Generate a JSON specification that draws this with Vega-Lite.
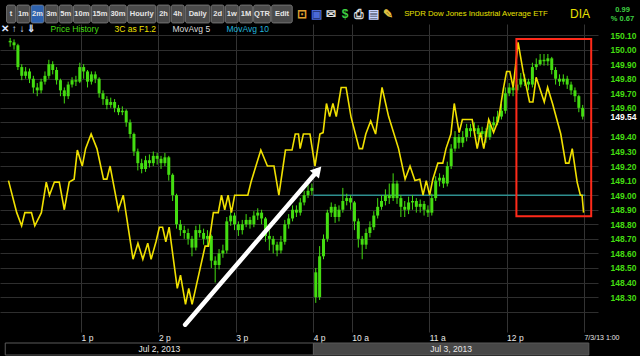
{
  "$schema": "https://vega.github.io/schema/vega-lite/v6.json",
  "background": "#000000",
  "padding": {"top": 4, "left": 0, "right": 0, "bottom": 0},
  "spacing": 0,
  "config": {"font": "Liberation Sans", "view": {"stroke": null}, "concat": {"spacing": 0}},
  "resolve": {"scale": {"x": "independent", "y": "independent", "color": "independent"}, "legend": {"color": "independent"}},
  "datasets": {
    "candles": [
      {"t":5,"o":150.06,"c":150.05,"h":150.08,"l":150.02},
      {"t":8,"o":150.05,"c":150.03,"h":150.07,"l":150.00},
      {"t":11,"o":150.03,"c":149.88,"h":150.04,"l":149.86},
      {"t":14,"o":149.88,"c":149.82,"h":149.90,"l":149.79},
      {"t":17,"o":149.82,"c":149.85,"h":149.88,"l":149.80},
      {"t":20,"o":149.85,"c":149.80,"h":149.87,"l":149.77},
      {"t":23,"o":149.80,"c":149.74,"h":149.82,"l":149.70},
      {"t":26,"o":149.74,"c":149.72,"h":149.77,"l":149.68},
      {"t":29,"o":149.72,"c":149.78,"h":149.80,"l":149.70},
      {"t":32,"o":149.78,"c":149.82,"h":149.85,"l":149.76},
      {"t":35,"o":149.82,"c":149.90,"h":149.93,"l":149.80},
      {"t":38,"o":149.90,"c":149.86,"h":149.92,"l":149.83},
      {"t":41,"o":149.86,"c":149.79,"h":149.88,"l":149.76},
      {"t":44,"o":149.79,"c":149.72,"h":149.80,"l":149.68},
      {"t":47,"o":149.72,"c":149.68,"h":149.74,"l":149.63},
      {"t":50,"o":149.68,"c":149.76,"h":149.78,"l":149.66},
      {"t":53,"o":149.76,"c":149.79,"h":149.81,"l":149.74},
      {"t":56,"o":149.79,"c":149.78,"h":149.82,"l":149.75},
      {"t":59,"o":149.78,"c":149.88,"h":149.91,"l":149.77},
      {"t":62,"o":149.88,"c":149.85,"h":149.90,"l":149.80},
      {"t":65,"o":149.85,"c":149.78,"h":149.86,"l":149.74},
      {"t":68,"o":149.78,"c":149.83,"h":149.85,"l":149.76},
      {"t":71,"o":149.83,"c":149.80,"h":149.85,"l":149.77},
      {"t":74,"o":149.80,"c":149.70,"h":149.81,"l":149.67},
      {"t":77,"o":149.70,"c":149.66,"h":149.72,"l":149.62},
      {"t":80,"o":149.66,"c":149.62,"h":149.68,"l":149.59},
      {"t":83,"o":149.62,"c":149.64,"h":149.67,"l":149.60},
      {"t":86,"o":149.64,"c":149.60,"h":149.66,"l":149.57},
      {"t":89,"o":149.60,"c":149.57,"h":149.62,"l":149.55},
      {"t":92,"o":149.57,"c":149.58,"h":149.61,"l":149.55},
      {"t":95,"o":149.58,"c":149.50,"h":149.59,"l":149.47},
      {"t":98,"o":149.50,"c":149.42,"h":149.52,"l":149.39},
      {"t":101,"o":149.42,"c":149.30,"h":149.43,"l":149.27},
      {"t":104,"o":149.30,"c":149.22,"h":149.32,"l":149.17},
      {"t":107,"o":149.22,"c":149.18,"h":149.25,"l":149.15},
      {"t":110,"o":149.18,"c":149.24,"h":149.27,"l":149.16},
      {"t":113,"o":149.24,"c":149.22,"h":149.28,"l":149.19},
      {"t":116,"o":149.22,"c":149.27,"h":149.30,"l":149.20},
      {"t":119,"o":149.27,"c":149.25,"h":149.29,"l":149.21},
      {"t":122,"o":149.25,"c":149.22,"h":149.27,"l":149.18},
      {"t":125,"o":149.22,"c":149.26,"h":149.29,"l":149.20},
      {"t":128,"o":149.26,"c":149.14,"h":149.27,"l":149.10},
      {"t":131,"o":149.14,"c":149.00,"h":149.15,"l":148.96},
      {"t":134,"o":149.00,"c":148.80,"h":149.01,"l":148.77},
      {"t":137,"o":148.80,"c":148.76,"h":148.83,"l":148.72},
      {"t":140,"o":148.76,"c":148.74,"h":148.79,"l":148.70},
      {"t":143,"o":148.74,"c":148.70,"h":148.77,"l":148.66},
      {"t":146,"o":148.70,"c":148.64,"h":148.72,"l":148.58},
      {"t":149,"o":148.64,"c":148.76,"h":148.79,"l":148.62},
      {"t":152,"o":148.76,"c":148.74,"h":148.80,"l":148.71},
      {"t":155,"o":148.74,"c":148.70,"h":148.77,"l":148.66},
      {"t":158,"o":148.70,"c":148.72,"h":148.76,"l":148.65},
      {"t":161,"o":148.72,"c":148.55,"h":148.73,"l":148.50},
      {"t":164,"o":148.55,"c":148.52,"h":148.58,"l":148.40},
      {"t":167,"o":148.52,"c":148.60,"h":148.63,"l":148.49},
      {"t":170,"o":148.60,"c":148.62,"h":148.66,"l":148.57},
      {"t":173,"o":148.62,"c":148.82,"h":148.85,"l":148.60},
      {"t":176,"o":148.82,"c":148.86,"h":148.89,"l":148.79},
      {"t":179,"o":148.86,"c":148.80,"h":148.88,"l":148.76},
      {"t":182,"o":148.80,"c":148.76,"h":148.82,"l":148.72},
      {"t":185,"o":148.76,"c":148.80,"h":148.83,"l":148.73},
      {"t":188,"o":148.80,"c":148.83,"h":148.87,"l":148.78},
      {"t":191,"o":148.83,"c":148.80,"h":148.85,"l":148.77},
      {"t":194,"o":148.80,"c":148.86,"h":148.89,"l":148.78},
      {"t":197,"o":148.86,"c":148.88,"h":148.91,"l":148.83},
      {"t":200,"o":148.88,"c":148.84,"h":148.90,"l":148.80},
      {"t":203,"o":148.84,"c":148.72,"h":148.85,"l":148.68},
      {"t":206,"o":148.72,"c":148.70,"h":148.76,"l":148.62},
      {"t":209,"o":148.70,"c":148.66,"h":148.72,"l":148.60},
      {"t":212,"o":148.66,"c":148.62,"h":148.68,"l":148.58},
      {"t":215,"o":148.62,"c":148.68,"h":148.72,"l":148.60},
      {"t":218,"o":148.68,"c":148.80,"h":148.83,"l":148.66},
      {"t":221,"o":148.80,"c":148.84,"h":148.87,"l":148.77},
      {"t":224,"o":148.84,"c":148.90,"h":148.93,"l":148.82},
      {"t":227,"o":148.90,"c":148.88,"h":148.93,"l":148.85},
      {"t":230,"o":148.88,"c":148.95,"h":148.98,"l":148.86},
      {"t":233,"o":148.95,"c":149.00,"h":149.03,"l":148.93},
      {"t":236,"o":149.00,"c":149.03,"h":149.07,"l":148.98},
      {"t":239,"o":149.03,"c":149.05,"h":149.08,"l":149.00},
      {"t":242,"o":148.47,"c":148.30,"h":148.50,"l":148.26},
      {"t":245,"o":148.30,"c":148.58,"h":148.65,"l":148.28},
      {"t":248,"o":148.58,"c":148.70,"h":148.73,"l":148.56},
      {"t":251,"o":148.70,"c":148.88,"h":148.90,"l":148.68},
      {"t":254,"o":148.88,"c":148.92,"h":148.95,"l":148.85},
      {"t":257,"o":148.92,"c":148.85,"h":148.94,"l":148.81},
      {"t":260,"o":148.85,"c":148.90,"h":148.93,"l":148.82},
      {"t":263,"o":148.90,"c":148.96,"h":149.05,"l":148.88},
      {"t":266,"o":148.96,"c":148.98,"h":149.01,"l":148.93},
      {"t":269,"o":148.98,"c":148.95,"h":149.00,"l":148.90},
      {"t":272,"o":148.95,"c":148.82,"h":148.96,"l":148.76},
      {"t":275,"o":148.82,"c":148.70,"h":148.84,"l":148.64},
      {"t":278,"o":148.70,"c":148.66,"h":148.72,"l":148.56},
      {"t":281,"o":148.66,"c":148.74,"h":148.77,"l":148.63},
      {"t":284,"o":148.74,"c":148.78,"h":148.82,"l":148.71},
      {"t":287,"o":148.78,"c":148.86,"h":148.89,"l":148.76},
      {"t":290,"o":148.86,"c":148.92,"h":148.98,"l":148.84},
      {"t":293,"o":148.92,"c":148.96,"h":149.00,"l":148.90},
      {"t":296,"o":148.96,"c":149.00,"h":149.04,"l":148.93},
      {"t":299,"o":149.00,"c":148.98,"h":149.08,"l":148.94},
      {"t":302,"o":148.98,"c":149.08,"h":149.15,"l":148.96},
      {"t":305,"o":149.08,"c":148.98,"h":149.10,"l":148.94},
      {"t":308,"o":148.98,"c":148.92,"h":149.00,"l":148.85},
      {"t":311,"o":148.92,"c":148.90,"h":148.96,"l":148.85},
      {"t":314,"o":148.90,"c":148.95,"h":148.99,"l":148.87},
      {"t":317,"o":148.95,"c":148.96,"h":149.00,"l":148.90},
      {"t":320,"o":148.96,"c":148.92,"h":148.98,"l":148.88},
      {"t":323,"o":148.92,"c":148.94,"h":148.97,"l":148.88},
      {"t":326,"o":148.94,"c":148.90,"h":148.96,"l":148.86},
      {"t":329,"o":148.90,"c":148.88,"h":148.93,"l":148.85},
      {"t":332,"o":148.88,"c":148.98,"h":149.01,"l":148.86},
      {"t":335,"o":148.98,"c":149.10,"h":149.13,"l":148.96},
      {"t":338,"o":149.10,"c":149.12,"h":149.15,"l":149.06},
      {"t":341,"o":149.12,"c":149.08,"h":149.14,"l":149.05},
      {"t":344,"o":149.08,"c":149.20,"h":149.23,"l":149.06},
      {"t":347,"o":149.20,"c":149.32,"h":149.35,"l":149.18},
      {"t":350,"o":149.32,"c":149.40,"h":149.44,"l":149.30},
      {"t":353,"o":149.40,"c":149.36,"h":149.42,"l":149.32},
      {"t":356,"o":149.36,"c":149.40,"h":149.44,"l":149.33},
      {"t":359,"o":149.40,"c":149.46,"h":149.49,"l":149.37},
      {"t":362,"o":149.46,"c":149.44,"h":149.49,"l":149.40},
      {"t":365,"o":149.44,"c":149.46,"h":149.50,"l":149.41},
      {"t":368,"o":149.46,"c":149.42,"h":149.48,"l":149.38},
      {"t":371,"o":149.42,"c":149.44,"h":149.47,"l":149.38},
      {"t":374,"o":149.44,"c":149.40,"h":149.46,"l":149.36},
      {"t":377,"o":149.40,"c":149.48,"h":149.51,"l":149.38},
      {"t":380,"o":149.48,"c":149.50,"h":149.54,"l":149.45},
      {"t":383,"o":149.50,"c":149.54,"h":149.58,"l":149.48},
      {"t":386,"o":149.54,"c":149.58,"h":149.63,"l":149.52},
      {"t":389,"o":149.58,"c":149.70,"h":149.74,"l":149.56},
      {"t":392,"o":149.70,"c":149.74,"h":149.77,"l":149.68},
      {"t":395,"o":149.74,"c":149.72,"h":149.77,"l":149.68},
      {"t":398,"o":149.72,"c":149.76,"h":149.80,"l":149.70},
      {"t":401,"o":149.76,"c":149.80,"h":149.84,"l":149.74},
      {"t":404,"o":149.80,"c":149.78,"h":149.83,"l":149.75},
      {"t":407,"o":149.78,"c":149.76,"h":149.80,"l":149.72},
      {"t":410,"o":149.76,"c":149.88,"h":149.91,"l":149.74},
      {"t":413,"o":149.88,"c":149.90,"h":149.94,"l":149.86},
      {"t":416,"o":149.90,"c":149.93,"h":149.97,"l":149.89},
      {"t":419,"o":149.93,"c":149.92,"h":149.97,"l":149.89},
      {"t":422,"o":149.92,"c":149.94,"h":149.97,"l":149.89},
      {"t":425,"o":149.94,"c":149.86,"h":149.95,"l":149.83},
      {"t":428,"o":149.86,"c":149.80,"h":149.88,"l":149.76},
      {"t":431,"o":149.80,"c":149.78,"h":149.83,"l":149.75},
      {"t":434,"o":149.78,"c":149.80,"h":149.83,"l":149.76},
      {"t":437,"o":149.80,"c":149.76,"h":149.82,"l":149.73},
      {"t":440,"o":149.76,"c":149.72,"h":149.78,"l":149.69},
      {"t":443,"o":149.72,"c":149.68,"h":149.74,"l":149.64},
      {"t":446,"o":149.68,"c":149.60,"h":149.69,"l":149.57},
      {"t":449,"o":149.60,"c":149.54,"h":149.62,"l":149.52}
    ],
    "threeC": [
      {"t":3.7,"v":149.10},{"t":10.1,"v":148.88},{"t":13.9,"v":148.79},{"t":16.4,"v":148.88},{"t":21.5,"v":148.88},{"t":24.1,"v":148.79},{"t":29.2,"v":148.88},{"t":33,"v":149.09},{"t":35.5,"v":149.00},{"t":39.3,"v":149.09},{"t":43.1,"v":149.09},{"t":47,"v":148.90},{"t":50.8,"v":149.09},{"t":54.6,"v":149.11},{"t":57.1,"v":149.31},{"t":60.9,"v":149.20},{"t":63.5,"v":149.32},{"t":67.8,"v":149.42},{"t":72.3,"v":149.32},{"t":77.4,"v":149.11},{"t":80,"v":149.11},{"t":82.5,"v":149.20},{"t":88.9,"v":148.90},{"t":92.7,"v":149.00},{"t":100.3,"v":148.56},{"t":104.1,"v":148.67},{"t":107.9,"v":148.56},{"t":111.7,"v":148.67},{"t":114.3,"v":148.56},{"t":118.1,"v":148.68},{"t":120.7,"v":148.78},{"t":123.2,"v":148.78},{"t":125.7,"v":148.68},{"t":128.3,"v":148.78},{"t":134.6,"v":148.36},{"t":137.1,"v":148.45},{"t":141,"v":148.25},{"t":143.5,"v":148.36},{"t":146.1,"v":148.25},{"t":156.2,"v":148.65},{"t":158.8,"v":148.65},{"t":162.6,"v":148.88},{"t":166.4,"v":148.88},{"t":168.9,"v":149.00},{"t":171.4,"v":148.90},{"t":174,"v":149.00},{"t":176.6,"v":148.88},{"t":179.1,"v":149.00},{"t":189.3,"v":149.00},{"t":191.8,"v":149.09},{"t":195.6,"v":149.20},{"t":199.4,"v":149.31},{"t":204.5,"v":149.20},{"t":209.6,"v":149.20},{"t":213.4,"v":149.00},{"t":218.5,"v":149.31},{"t":223.6,"v":149.31},{"t":226.1,"v":149.42},{"t":228.6,"v":149.42},{"t":229.9,"v":149.32},{"t":232.4,"v":149.42},{"t":237.5,"v":149.42},{"t":241.4,"v":149.20},{"t":245.2,"v":149.42},{"t":247.7,"v":149.43},{"t":250.3,"v":149.63},{"t":252.8,"v":149.54},{"t":255.3,"v":149.63},{"t":257.9,"v":149.54},{"t":261.7,"v":149.74},{"t":265.5,"v":149.74},{"t":269.3,"v":149.54},{"t":275.7,"v":149.32},{"t":278.2,"v":149.32},{"t":280.8,"v":149.42},{"t":284.6,"v":149.51},{"t":288.4,"v":149.42},{"t":293.4,"v":149.74},{"t":298.5,"v":149.54},{"t":306.2,"v":149.32},{"t":311.3,"v":149.11},{"t":315.1,"v":149.20},{"t":318.9,"v":149.10},{"t":322.7,"v":149.11},{"t":325.2,"v":149.00},{"t":327.7,"v":149.10},{"t":330.3,"v":149.00},{"t":332.8,"v":149.11},{"t":336.7,"v":149.22},{"t":340.5,"v":149.22},{"t":343,"v":149.32},{"t":346.8,"v":149.42},{"t":349.4,"v":149.63},{"t":353.2,"v":149.43},{"t":355.7,"v":149.52},{"t":363.3,"v":149.52},{"t":367.2,"v":149.32},{"t":369.7,"v":149.43},{"t":372.3,"v":149.32},{"t":376.1,"v":149.52},{"t":379.9,"v":149.43},{"t":383.7,"v":149.52},{"t":387.5,"v":149.73},{"t":390,"v":149.85},{"t":392.5,"v":149.85},{"t":395.1,"v":149.74},{"t":398.9,"v":150.05},{"t":402.8,"v":149.85},{"t":407.8,"v":149.64},{"t":410.4,"v":149.64},{"t":412.9,"v":149.81},{"t":419.2,"v":149.64},{"t":421.8,"v":149.74},{"t":425.6,"v":149.63},{"t":432,"v":149.42},{"t":435.8,"v":149.22},{"t":438.3,"v":149.22},{"t":440.9,"v":149.32},{"t":444.7,"v":149.09},{"t":447.2,"v":149.00},{"t":448.5,"v":149.00},{"t":449.7,"v":148.88}
    ]
  },
  "vconcat": [
    {
      "spacing": 0,
      "resolve": {"scale": {"x": "independent", "y": "independent", "color": "independent"}},
      "hconcat": [
        {
          "width": 293, "height": 18,
          "data": {"values": [{"tab":"t"},{"tab":"1m"},{"tab":"2m"},{"tab":"3m"},{"tab":"5m"},{"tab":"10m"},{"tab":"15m"},{"tab":"30m"},{"tab":"Hourly"},{"tab":"2h"},{"tab":"4h"},{"tab":"Daily"},{"tab":"2d"},{"tab":"1w"},{"tab":"1M"},{"tab":"QTR"},{"tab":"Edit"}]},
          "transform": [
            {"calculate": "length(datum.tab) * 3.9 + 6.5", "as": "w"},
            {"window": [{"op": "sum", "field": "w", "as": "right"}]},
            {"calculate": "datum.right - datum.w + 0.6", "as": "left"},
            {"calculate": "datum.right - 0.6", "as": "right2"},
            {"calculate": "datum.right - datum.w / 2", "as": "mid"}
          ],
          "layer": [
            {
              "mark": {"type": "rect", "cornerRadius": 2, "stroke": "#9a9a9a", "strokeWidth": 0.6},
              "encoding": {
                "x": {"field": "left", "type": "quantitative", "scale": {"domain": [-6, 290], "nice": false, "zero": false}, "axis": null},
                "x2": {"field": "right2"},
                "color": {"condition": {"test": "datum.tab === '2m'", "value": "#2e62ad"}, "value": "#4a4a4a"}
              }
            },
            {
              "mark": {"type": "text", "fontSize": 7.5, "fontWeight": "bold", "color": "#e6e6e6"},
              "encoding": {
                "x": {"field": "mid", "type": "quantitative"},
                "text": {"field": "tab"}
              }
            }
          ]
        },
        {
          "width": 104, "height": 18,
          "data": {"values": [{"icon":"lock","glyph":"⊡"},{"icon":"save","glyph":"▣"},{"icon":"mail","glyph":"✉"},{"icon":"dollar","glyph":"$"},{"icon":"print","glyph":"⎙"},{"icon":"card","glyph":"▤"},{"icon":"pencil","glyph":"✎"}]},
          "mark": {"type": "text", "fontSize": 12, "fontWeight": "bold"},
          "encoding": {
            "x": {"field": "icon", "type": "nominal", "sort": null, "scale": {"type": "point", "padding": 0.63}, "axis": null},
            "text": {"field": "glyph"},
            "color": {"field": "icon", "type": "nominal", "legend": null,
              "scale": {"domain": ["lock","save","mail","dollar","print","card","pencil"], "range": ["#e0a030","#4a6ad8","#e0e0e0","#3ed040","#d8d8d8","#c8d4ff","#e0c040"]}}
          }
        },
        {
          "width": 158, "height": 18,
          "data": {"values": [{"name": "SPDR Dow Jones Industrial Average ETF"}]},
          "mark": {"type": "text", "fontSize": 7.8, "color": "#e8e000"},
          "encoding": {"text": {"field": "name"}}
        },
        {
          "width": 50, "height": 18,
          "data": {"values": [{"sym": "DIA"}]},
          "mark": {"type": "text", "fontSize": 12, "color": "#e8e000"},
          "encoding": {"text": {"field": "sym"}}
        },
        {
          "width": 35, "height": 18,
          "data": {"values": [{"k": "a", "s": "0.99"}, {"k": "b", "s": "% 0.67"}]},
          "mark": {"type": "text", "fontSize": 7.5, "fontWeight": "bold", "color": "#3ed040"},
          "encoding": {
            "y": {"field": "k", "type": "nominal", "axis": null},
            "text": {"field": "s"}
          }
        }
      ]
    },
    {
      "width": 598, "height": 308,
      "layer": [
        {
          "data": {"values": [{"from": 240, "to": 451, "level": 149.0}]},
          "mark": {"type": "rule", "color": "#2f8f8f", "strokeWidth": 1.5},
          "encoding": {
            "x": {"field": "from", "type": "quantitative", "title": null,
              "scale": {"domain": [1, 457], "nice": false, "zero": false},
              "axis": {"values": [60, 120, 180, 240, 270, 330, 390, 450], "tickCount": 100, "grid": true, "gridColor": "#333333", "domain": false, "ticks": false,
                "labelExpr": "datum.value == 60 ? '1 p' : datum.value == 120 ? '2 p' : datum.value == 180 ? '3 p' : datum.value == 240 ? '4 p' : datum.value == 270 ? '10 a' : datum.value == 330 ? '11 a' : datum.value == 390 ? '12 p' : '7/3/13 1:00'",
                "labelAlign": "left", "labelPadding": 1, "labelFontSize": {"condition": {"test": "datum.value == 450", "value": 7}, "value": 8.5}, "labelColor": "#e8e8e8", "labelOverlap": false, "labelBound": false, "labelFlush": false}},
            "x2": {"field": "to"},
            "y": {"field": "level", "type": "quantitative", "title": null,
              "scale": {"domain": [148.06, 150.176], "nice": false, "zero": false},
              "axis": {"orient": "right", "values": [148.2, 148.3, 148.4, 148.5, 148.6, 148.7, 148.8, 148.9, 149.0, 149.1, 149.2, 149.3, 149.4, 149.5, 149.54, 149.6, 149.7, 149.8, 149.9, 150.0, 150.1],
                "tickCount": 100,
                "grid": true, "gridColor": "#2e2e2e",
                "gridOpacity": {"condition": {"test": "datum.value == 149.54", "value": 0}, "value": 1},
                "domain": false, "ticks": false, "labelPadding": 12, "labelFontSize": 8.5, "labelFontWeight": "bold",
                "labelColor": {"condition": {"test": "datum.value == 149.54", "value": "#ffffff"}, "value": "#44dd11"},
                "labelExpr": "datum.value == 148.2 || datum.value == 149.5 ? '' : format(datum.value, '.2f')",
                "labelOverlap": false, "labelBound": false, "labelFlush": false}}
          }
        },
        {
          "data": {"name": "candles"},
          "mark": {"type": "rule", "strokeWidth": 1},
          "encoding": {
            "x": {"field": "t", "type": "quantitative", "title": null},
            "y": {"field": "l", "type": "quantitative", "title": null},
            "y2": {"field": "h"},
            "color": {"datum": "Price History", "type": "nominal"}
          }
        },
        {
          "data": {"name": "candles"},
          "mark": {"type": "bar", "width": 3},
          "encoding": {
            "x": {"field": "t", "type": "quantitative", "title": null},
            "y": {"field": "o", "type": "quantitative", "title": null},
            "y2": {"field": "c"},
            "color": {"datum": "Price History", "type": "nominal",
              "scale": {"domain": ["Price History", "3C as F1.2", "MovAvg 5", "MovAvg 10"], "range": ["#44dd11", "#f0e000", "#dddddd", "#22b5dd"]},
              "legend": {"orient": "top-left", "direction": "horizontal", "offset": 1, "padding": 0,
                "title": "  ✕ ↑ ↓ ⇓", "titleOrient": "left", "titleColor": "#dfe6ff", "titleFontSize": 10, "titleFontWeight": "bold", "titlePadding": 6,
                "labelFontSize": 8.5, "symbolSize": 0, "symbolOpacity": 0, "symbolStrokeWidth": 0, "labelOffset": 0, "columnPadding": 7,
                "encode": {"labels": {"update": {"fill": {"signal": "datum.value === 'Price History' ? '#44dd11' : datum.value === '3C as F1.2' ? '#f0e000' : datum.value === 'MovAvg 5' ? '#dddddd' : '#22b5dd'"}}}}}
            }
          }
        },
        {
          "data": {"name": "threeC"},
          "mark": {"type": "line", "strokeWidth": 1.6},
          "encoding": {
            "x": {"field": "t", "type": "quantitative", "title": null},
            "y": {"field": "v", "type": "quantitative", "title": null},
            "color": {"datum": "3C as F1.2", "type": "nominal"}
          }
        },
        {
          "data": {"values": [{"t1": 397.6, "t2": 455.6, "v1": 150.073, "v2": 148.856}]},
          "mark": {"type": "rect", "fillOpacity": 0, "stroke": "#ff2a1a", "strokeWidth": 2},
          "encoding": {
            "x": {"field": "t1", "type": "quantitative", "title": null},
            "x2": {"field": "t2"},
            "y": {"field": "v1", "type": "quantitative", "title": null},
            "y2": {"field": "v2"}
          }
        },
        {
          "data": {"values": [{"t": 140.7, "v": 148.11, "end": "tail"}, {"t": 243.6, "v": 149.17, "end": "tip"}]},
          "mark": {"type": "line", "color": "#ffffff", "strokeWidth": 4.5, "strokeCap": "round"},
          "encoding": {
            "x": {"field": "t", "type": "quantitative", "title": null},
            "y": {"field": "v", "type": "quantitative", "title": null}
          }
        },
        {
          "data": {"values": [{"t": 243.6, "v": 149.17, "end": "tip"}]},
          "mark": {"type": "point", "shape": "triangle-up", "filled": true, "color": "#ffffff", "opacity": 1, "size": 150, "angle": 41},
          "encoding": {
            "x": {"field": "t", "type": "quantitative", "title": null},
            "y": {"field": "v", "type": "quantitative", "title": null}
          }
        }
      ]
    },
    {
      "width": 598, "height": 12,
      "data": {"values": [{"session": "Jul 2, 2013", "start": 5, "end": 240}, {"session": "Jul 3, 2013", "start": 240, "end": 450}]},
      "transform": [{"calculate": "(datum.start + datum.end) / 2", "as": "mid"}],
      "layer": [
        {
          "mark": {"type": "rect", "stroke": "#5a5a5a", "strokeWidth": 1},
          "encoding": {
            "x": {"field": "start", "type": "quantitative", "scale": {"domain": [1, 457], "nice": false, "zero": false}, "axis": null},
            "x2": {"field": "end"},
            "color": {"condition": {"test": "datum.session === 'Jul 3, 2013'", "value": "#474747"}, "value": "#000000"}
          }
        },
        {
          "mark": {"type": "text", "fontSize": 8.5, "color": "#e8e8e8"},
          "encoding": {
            "x": {"field": "mid", "type": "quantitative"},
            "text": {"field": "session"}
          }
        }
      ]
    }
  ]
}
